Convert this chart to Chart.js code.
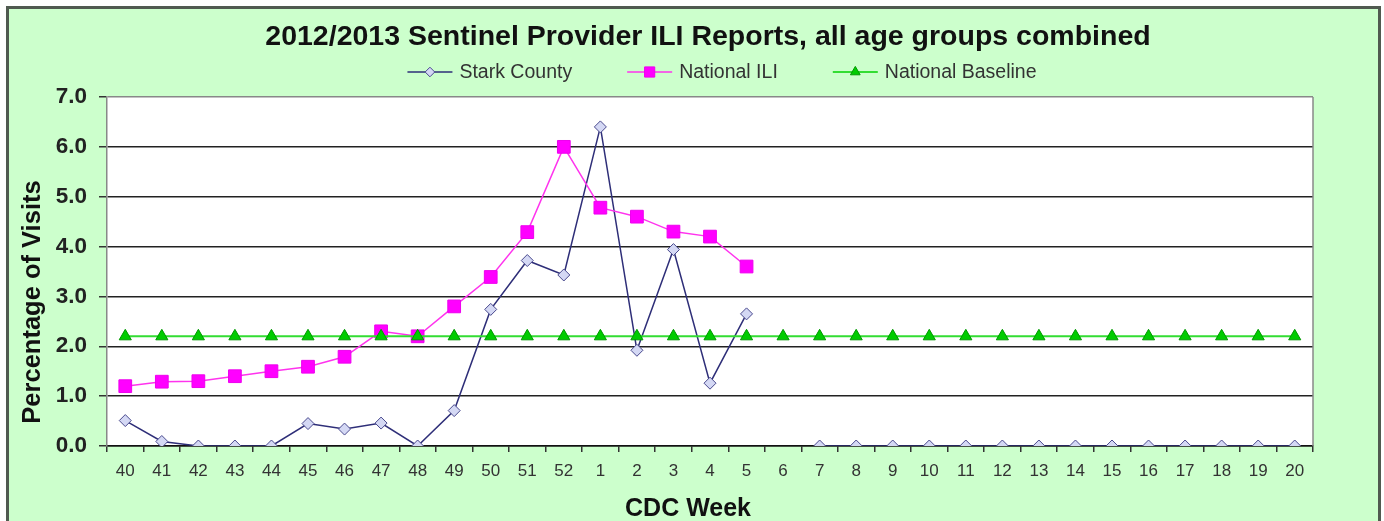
<!DOCTYPE html>
<html>
<head>
<meta charset="utf-8">
<title>2012/2013 Sentinel Provider ILI Reports</title>
<script src="https://cdn.jsdelivr.net/npm/chart.js@4.4.1/dist/chart.umd.min.js"></script>
<style>
    html, body { margin: 0; padding: 0; background: #fff; overflow: hidden; }
    #wrap { position: relative; width: 1384px; height: 521px; overflow: hidden; }
    canvas { display: block; }
</style>
</head>
<body>
<div id="wrap"><canvas id="ili-chart" width="1416" height="521"></canvas></div>
<script>
const FONT = "'Liberation Sans', Arial, sans-serif";

const weeks = ['40', '41', '42', '43', '44', '45', '46', '47', '48', '49', '50', '51', '52',
    '1', '2', '3', '4', '5', '6', '7', '8', '9', '10', '11', '12', '13', '14', '15', '16', '17', '18', '19', '20'];

const starkCounty = [0.51, 0.09, 0, 0, 0, 0.45, 0.34, 0.46, 0, 0.71, 2.74, 3.72, 3.43,
    6.4, 1.92, 3.94, 1.26, 2.65, null, 0, 0, 0, 0, 0, 0, 0, 0, 0, 0, 0, 0, 0, 0];

const nationalIli = [1.2, 1.29, 1.3, 1.4, 1.5, 1.59, 1.79, 2.3, 2.2, 2.8, 3.39, 4.29, 6.0,
    4.78, 4.6, 4.3, 4.2, 3.6];

const nationalBaseline = [2.2, 2.2, 2.2, 2.2, 2.2, 2.2, 2.2, 2.2, 2.2, 2.2, 2.2, 2.2, 2.2,
    2.2, 2.2, 2.2, 2.2, 2.2, 2.2, 2.2, 2.2, 2.2, 2.2, 2.2, 2.2, 2.2, 2.2, 2.2, 2.2, 2.2, 2.2, 2.2, 2.2];

const chartTitle = '2012/2013 Sentinel Provider ILI Reports, all age groups combined';
const xTitle = 'CDC Week';
const yTitle = 'Percentage of Visits';

// green panel, border and white plot area
const framePlugin = {
    id: 'frame',
    beforeDraw(chart) {
        const { ctx, chartArea: a } = chart;
        ctx.save();
        ctx.fillStyle = '#fff';
        ctx.fillRect(0, 0, chart.width, chart.height);
        ctx.fillStyle = '#ccffcc';
        ctx.fillRect(8, 8, 1371, 530);
        ctx.strokeStyle = '#505a50';
        ctx.lineWidth = 3;
        ctx.strokeRect(7.5, 7.5, 1372, 540);
        ctx.fillStyle = '#fff';
        ctx.fillRect(a.left, a.top, a.right - a.left, a.bottom - a.top);
        ctx.restore();
    },
    beforeDatasetsDraw(chart) {
        const { ctx, chartArea: a } = chart;
        ctx.save();
        ctx.strokeStyle = '#888';
        ctx.lineWidth = 1.5;
        ctx.beginPath();
        ctx.moveTo(a.right, a.top);
        ctx.lineTo(a.right, a.bottom);
        ctx.stroke();
        ctx.restore();
    },
};

function drawMarker(ctx, style, r, x, y) {
    ctx.beginPath();
    if (style === 'rectRot') {
        ctx.moveTo(x, y - r);
        ctx.lineTo(x + r, y);
        ctx.lineTo(x, y + r);
        ctx.lineTo(x - r, y);
    } else if (style === 'rect') {
        const s = r * Math.SQRT1_2;
        ctx.rect(x - s, y - s, 2 * s, 2 * s);
    } else {
        ctx.moveTo(x, y - r);
        ctx.lineTo(x + 0.866 * r, y + 0.5 * r);
        ctx.lineTo(x - 0.866 * r, y + 0.5 * r);
    }
    ctx.closePath();
    ctx.fill();
    ctx.stroke();
}

// legend drawn as line + marker like the spreadsheet original
const lineLegendPlugin = {
    id: 'lineLegend',
    afterDraw(chart) {
        const { ctx } = chart;
        const sets = chart.data.datasets;
        const lineLen = 45, textGap = 7, itemGap = 55, cy = 72, centerX = 722;
        ctx.save();
        ctx.font = '19.5px ' + FONT;
        const widths = sets.map(d => ctx.measureText(d.label).width);
        const total = widths.reduce((s, w) => s + w + lineLen + textGap, 0) + itemGap * (sets.length - 1);
        let x = centerX - total / 2;
        sets.forEach((d, i) => {
            ctx.strokeStyle = d.borderColor;
            ctx.lineWidth = d.borderWidth;
            ctx.beginPath();
            ctx.moveTo(x, cy);
            ctx.lineTo(x + lineLen, cy);
            ctx.stroke();
            ctx.fillStyle = d.pointBackgroundColor;
            ctx.strokeStyle = d.pointBorderColor;
            ctx.lineWidth = 1;
            drawMarker(ctx, d.pointStyle, d.pointRadius * 0.8, x + lineLen / 2, cy);
            ctx.fillStyle = '#333';
            ctx.textBaseline = 'middle';
            ctx.textAlign = 'left';
            ctx.fillText(d.label, x + lineLen + textGap, cy + 1);
            x += lineLen + textGap + widths[i] + itemGap;
        });
        ctx.restore();
    },
};

const axisTitlePlugin = {
    id: 'axisTitles',
    afterDraw(chart) {
        const { ctx } = chart;
        ctx.save();
        ctx.fillStyle = '#111';
        ctx.textAlign = 'center';
        ctx.textBaseline = 'middle';
        ctx.font = 'bold 25px ' + FONT;
        ctx.fillText(xTitle, 688, 509);
        ctx.translate(33, 302);
        ctx.rotate(-Math.PI / 2);
        ctx.font = 'bold 25.5px ' + FONT;
        ctx.fillText(yTitle, 0, 0);
        ctx.restore();
    },
};

new Chart(document.getElementById('ili-chart'), {
    type: 'line',
    data: {
        labels: weeks,
        datasets: [
            {
                label: 'Stark County',
                data: starkCounty,
                borderColor: '#2e2e78',
                borderWidth: 1.5,
                pointStyle: 'rectRot',
                pointRadius: 6,
                pointBackgroundColor: '#d4d8f4',
                pointBorderColor: '#4a4a8e',
                pointBorderWidth: 1,
                spanGaps: false,
                order: 3,
            },
            {
                label: 'National ILI',
                data: nationalIli,
                borderColor: '#ff33ee',
                borderWidth: 1.5,
                pointStyle: 'rect',
                pointRadius: 9,
                pointBackgroundColor: '#ff00ff',
                pointBorderColor: '#ee00ee',
                pointBorderWidth: 1,
                order: 2,
            },
            {
                label: 'National Baseline',
                data: nationalBaseline,
                borderColor: '#33dd33',
                borderWidth: 2,
                pointStyle: 'triangle',
                pointRadius: 7,
                pointBackgroundColor: '#00cc00',
                pointBorderColor: '#009900',
                pointBorderWidth: 1,
                order: 1,
            },
        ],
    },
    options: {
        responsive: false,
        animation: false,
        events: [],
        layout: { padding: 0 },
        plugins: {
            legend: { display: false },
            tooltip: { enabled: false },
            title: {
                display: true,
                text: chartTitle,
                color: '#111',
                font: { family: FONT, size: 28.5, weight: 'bold', lineHeight: 1.2 },
                padding: { top: 20, bottom: 42.8 },
            },
        },
        scales: {
            x: {
                offset: true,
                afterFit(scale) { scale.height = 75; },
                grid: { offset: true, drawOnChartArea: false, tickLength: 6, color: '#333', lineWidth: 1.5 },
                border: { color: '#111', width: 1.5 },
                ticks: {
                    autoSkip: false,
                    maxRotation: 0,
                    padding: 9,
                    color: '#333',
                    font: { family: FONT, size: 17 },
                },
            },
            y: {
                min: 0,
                max: 7,
                afterFit(scale) { scale.width = 107; },
                grid: {
                    tickLength: 8,
                    lineWidth: 1.5,
                    color: c => (c.tick && c.tick.value === 7 ? '#888' : '#222'),
                    tickColor: '#333',
                },
                border: { color: '#888', width: 1.5 },
                ticks: {
                    stepSize: 1,
                    padding: 12,
                    color: '#222',
                    font: { family: FONT, size: 22.5, weight: 'bold' },
                    callback: v => v.toFixed(1),
                },
            },
            // empty right-hand margin so the title centres like the original
            spacer: {
                position: 'right',
                min: 0,
                max: 7,
                afterFit(scale) { scale.width = 103; },
                grid: { display: false },
                border: { display: false },
                ticks: { display: false },
            },
        },
    },
    plugins: [framePlugin, lineLegendPlugin, axisTitlePlugin],
});
</script>
</body>
</html>
